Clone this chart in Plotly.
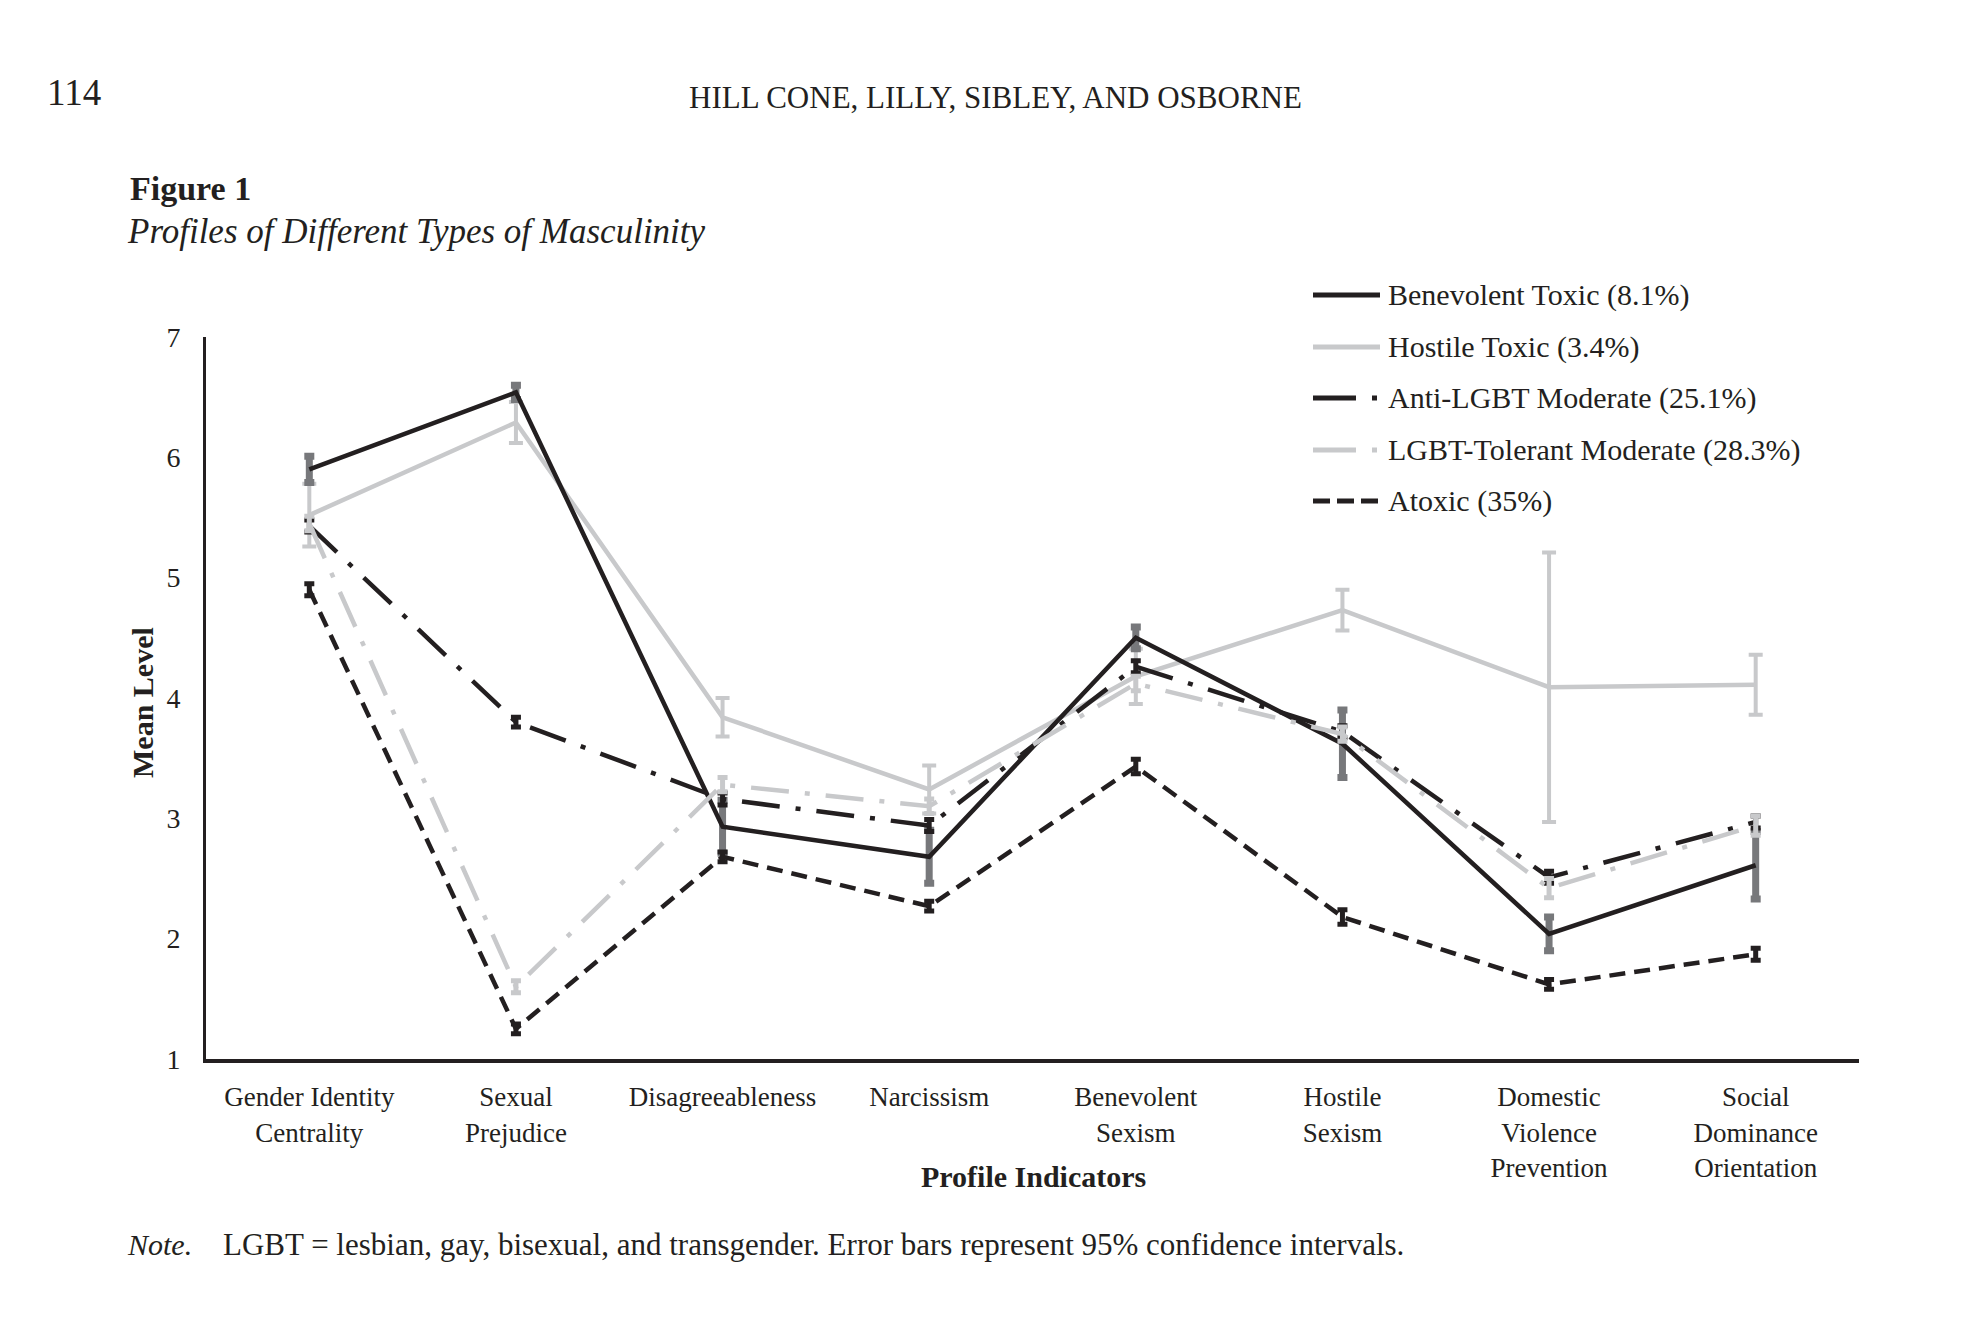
import plotly.graph_objects as go

# ---------------- data ----------------
categories = ["Gender Identity<br>Centrality", "Sexual<br>Prejudice", "Disagreeableness",
              "Narcissism", "Benevolent<br>Sexism", "Hostile<br>Sexism",
              "Domestic<br>Violence<br>Prevention", "Social<br>Dominance<br>Orientation"]

series_names = ["Benevolent Toxic (8.1%)", "Hostile Toxic (3.4%)", "Anti-LGBT Moderate (25.1%)",
                "LGBT-Tolerant Moderate (28.3%)", "Atoxic (35%)"]

benevolent_toxic = [5.90, 6.54, 2.93, 2.68, 4.50, 3.62, 2.04, 2.61]
benevolent_toxic_ci = [0.11, 0.06, 0.22, 0.22, 0.09, 0.28, 0.14, 0.28]

hostile_toxic = [5.52, 6.29, 3.84, 3.24, 4.18, 4.73, 4.09, 4.11]
hostile_toxic_ci = [0.26, 0.17, 0.16, 0.20, 0.23, 0.17, 1.12, 0.25]

anti_lgbt = [5.43, 3.80, 3.16, 2.94, 4.26, 3.72, 2.51, 2.97]
anti_lgbt_ci = [0.05, 0.04, 0.05, 0.05, 0.05, 0.05, 0.05, 0.05]

lgbt_tolerant = [5.45, 1.60, 3.28, 3.10, 4.12, 3.70, 2.42, 2.94]
lgbt_tolerant_ci = [0.06, 0.05, 0.06, 0.06, 0.06, 0.06, 0.08, 0.08]

atoxic = [4.90, 1.25, 2.68, 2.27, 3.43, 2.18, 1.62, 1.87]
atoxic_ci = [0.05, 0.04, 0.04, 0.04, 0.06, 0.06, 0.04, 0.05]

y_ticks = [1, 2, 3, 4, 5, 6, 7]

# ---------------- styles ----------------
BLACK = "#231f20"
LIGHT = "#c8c9cb"
DARK = "#77787b"
FONT = "Liberation Serif"

OFF = 8                      # page body margin
W, H = 1970 - 2 * OFF, 1332 - 2 * OFF
L, R, T, B = 206, 1859, 337, 1059   # plot area box in screen pixels

def px(x):
    return (x - L) / (R - L)

def py(y):
    return (B - y) / (B - T)

styles = [
    dict(color=BLACK, width=4.5, dash="solid", ecolor=DARK, eth=7, ew=5),
    dict(color=LIGHT, width=4.5, dash="solid", ecolor=LIGHT, eth=4, ew=7),
    dict(color=BLACK, width=4.5, dash="38px,16px,5px,16px", ecolor=BLACK, eth=5, ew=5),
    dict(color=LIGHT, width=4.5, dash="38px,16px,5px,16px", ecolor=LIGHT, eth=5, ew=5),
    dict(color=BLACK, width=4.5, dash="16px,9px", ecolor=BLACK, eth=5, ew=5),
]
legend_dash = ["solid", "solid", "43px,16px,5px,16px", "43px,16px,5px,16px", "17px,7px"]
values = [benevolent_toxic, hostile_toxic, anti_lgbt, lgbt_tolerant, atoxic]
cis = [benevolent_toxic_ci, hostile_toxic_ci, anti_lgbt_ci, lgbt_tolerant_ci, atoxic_ci]

fig = go.Figure()
draw_order = [1, 0, 2, 3, 4]
for i in draw_order:
    s = styles[i]
    fig.add_trace(go.Scatter(
        x=categories, y=values[i], name=series_names[i], mode="lines",
        line=dict(color=s["color"], width=s["width"], dash=s["dash"]),
        error_y=dict(type="data", array=cis[i], visible=True, color=s["ecolor"],
                     thickness=s["eth"], width=s["ew"]),
        cliponaxis=False, showlegend=False,
    ))

# ---------------- manual legend ----------------
legend_y = [295, 347, 398, 450, 501]
shapes = []
annotations = []
for i, name in enumerate(series_names):
    s = styles[i]
    shapes.append(dict(type="line", xref="paper", yref="paper",
                       x0=px(1313), x1=px(1380), y0=py(legend_y[i]), y1=py(legend_y[i]),
                       line=dict(color=s["color"], width=5, dash=legend_dash[i])))
    annotations.append(dict(text=name, xref="paper", yref="paper", x=px(1386), y=py(legend_y[i]),
                            xanchor="left", yanchor="middle", showarrow=False,
                            font=dict(family=FONT, size=30, color=BLACK)))

# ---------------- page texts ----------------
def ann(text, x, y, size, xanchor="left", textangle=0):
    annotations.append(dict(text=text, xref="paper", yref="paper", x=px(x), y=py(y),
                            xanchor=xanchor, yanchor="middle", showarrow=False, textangle=textangle,
                            font=dict(family=FONT, size=size, color=BLACK)))

ann("114", 45, 93, 37)
ann("HILL CONE, LILLY, SIBLEY, AND OSBORNE", 995, 97, 31, xanchor="center")
ann("<b>Figure 1</b>", 128, 189, 34)
ann("<i>Profiles of Different Types of Masculinity</i>", 125, 232, 35)
ann("<b>Mean Level</b>", 142, 703, 30, xanchor="center", textangle=-90)
ann("<b>Profile Indicators</b>", 1033, 1176, 30, xanchor="center")
ann("<i>Note.</i>", 125, 1244, 30)
ann("LGBT = lesbian, gay, bisexual, and transgender. Error bars represent 95% confidence intervals.", 221, 1244, 31)

fig.update_layout(
    width=W, height=H,
    margin=dict(l=L - OFF, r=W - (R - OFF), t=T - OFF, b=H - (B - OFF), pad=0),
    paper_bgcolor="white", plot_bgcolor="white",
    showlegend=False,
    shapes=shapes, annotations=annotations,
    font=dict(family=FONT, color=BLACK),
    xaxis=dict(type="category", range=[-0.5, 7.5], showgrid=False, zeroline=False,
               showline=True, linecolor=BLACK, linewidth=4, ticks="",
               tickfont=dict(family=FONT, size=27, color=BLACK), ticklabelstandoff=11),
    yaxis=dict(range=[1, 7], tickvals=y_ticks, showgrid=False, zeroline=False,
               showline=True, linecolor=BLACK, linewidth=3, ticks="",
               tickfont=dict(family=FONT, size=28, color=BLACK), ticklabelstandoff=17),
)

fig.write_html("out.html")
